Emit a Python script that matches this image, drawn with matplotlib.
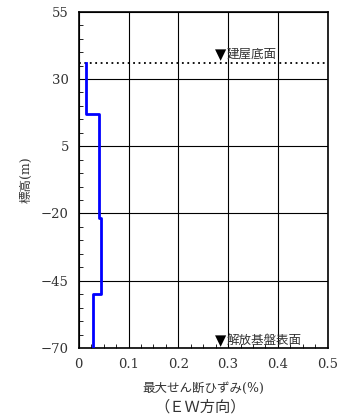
import numpy as np
import matplotlib.pyplot as plt

plt.rcParams['font.family'] = ['DejaVu Serif', 'Noto Sans CJK JP']

# strain profile (step curve), elevation in m, strain in %
elev = [36, 17, 17, -21.8, -21.8, -50, -50, -70]
strain = [0.014, 0.014, 0.040, 0.040, 0.044, 0.044, 0.029, 0.029]

base_level = 36       # 建屋底面
marker_x = 0.273

y_major = [-70, -45, -20, 5, 30, 55]
x_major = [0, 0.1, 0.2, 0.3, 0.4, 0.5]
x_labels = ['0', '0.1', '0.2', '0.3', '0.4', '0.5']

fig = plt.figure(figsize=(3.49, 4.19), dpi=100)
ax = fig.add_axes([0.2255, 0.1695, 0.7135, 0.8025])

ax.plot(strain, elev, color='#0000ff', lw=2, zorder=3)
ax.axhline(base_level, color='black', lw=1.3, ls=(0, (1, 2)), zorder=2)

ax.set_xlim(0, 0.5)
ax.set_ylim(-70, 55)
ax.set_xticks(x_major)
ax.set_xticklabels(x_labels)
ax.set_xticks(np.arange(0, 0.5, 0.025), minor=True)
ax.set_yticks(y_major)
ax.set_yticks(np.arange(-70, 55, 5), minor=True)
ax.grid(True, which='major', color='black', lw=0.8)
ax.tick_params(which='both', direction='in', top=False, right=False,
               labelsize=9.5, labelcolor='#333333', color='black')
ax.tick_params(which='major', length=0, pad=7)
ax.tick_params(which='minor', length=3)
for s in ax.spines.values():
    s.set_linewidth(1.2)

ax.text(marker_x, base_level + 0.3, '▼', fontsize=10.5, color='black',
        ha='left', va='bottom', family=['DejaVu Sans'])
ax.text(marker_x + 0.024, base_level + 0.8, '建屋底面', fontsize=9, color='#333333',
        ha='left', va='bottom', family=['Noto Sans CJK JP'])
ax.text(marker_x, -70.2, '▼', fontsize=10.5, color='black',
        ha='left', va='bottom', family=['DejaVu Sans'])
ax.text(marker_x + 0.024, -69.7, '解放基盤表面', fontsize=9, color='#333333',
        ha='left', va='bottom', family=['Noto Sans CJK JP'])

ax.set_ylabel('標高(m)', fontsize=9, color='#333333', labelpad=6)
ax.set_xlabel('最大せん断ひずみ(%)', fontsize=9, color='#333333', labelpad=8)
fig.text(0.573, 0.028, '（ＥＷ方向）', fontsize=11, color='#333333', ha='center',
         va='center')

fig.savefig('out.png', dpi=100)
